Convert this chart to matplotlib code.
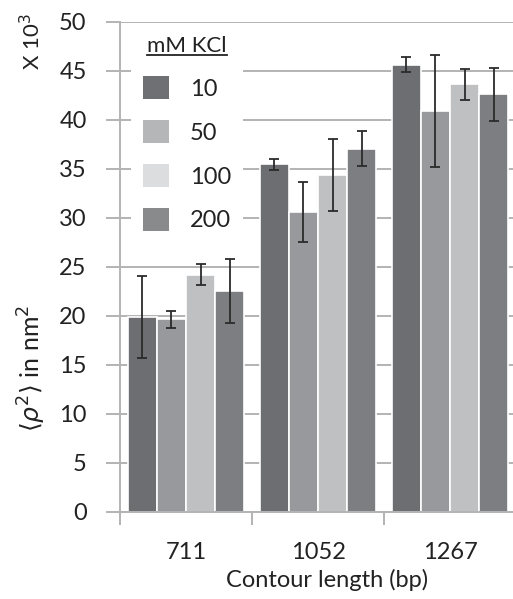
import matplotlib
matplotlib.use("Agg")
import matplotlib.pyplot as plt
from matplotlib.patches import Patch
from matplotlib.lines import Line2D
import numpy as np

plt.rcParams['font.family'] = ['Lato', 'DejaVu Sans']
plt.rcParams['mathtext.fontset'] = 'dejavusans'

categories = ['711', '1052', '1267']
kcl_levels = ['10', '50', '100', '200']
values = {
    '10':  [19.9, 35.45, 45.65],
    '50':  [19.65, 30.55, 40.9],
    '100': [24.2, 34.35, 43.65],
    '200': [22.5, 37.05, 42.6],
}
errors = {
    '10':  [4.2, 0.58, 0.8],
    '50':  [0.88, 3.06, 5.7],
    '100': [1.05, 3.69, 1.58],
    '200': [3.25, 1.77, 2.72],
}
yticks = [0, 5, 10, 15, 20, 25, 30, 35, 40, 45, 50]

bar_colors = ['#6d6e71', '#98999c', '#bfc0c2', '#7d7e81']
swatch_colors = ['#6f7073', '#b5b6b8', '#dcdddf', '#888a8c']
grid_color = '#b3b3b3'

fig = plt.figure(figsize=(5.13, 5.99), dpi=100)
ax = fig.add_axes([120/513, 87.5/599, 396/513, 489.5/599])

x = np.arange(len(categories))
width = 0.22
offsets = (np.arange(4) - 1.5) * width
for i, k in enumerate(kcl_levels):
    ax.bar(x + offsets[i], values[k], width, color=bar_colors[i],
           edgecolor='white', linewidth=1.2, zorder=3)
    ax.errorbar(x + offsets[i], values[k], yerr=errors[k], fmt='none',
                ecolor='#2b2b2b', elinewidth=1.3, capsize=3.8, capthick=1.3, zorder=4)

ax.set_xlim(-0.5, 2.5)
ax.set_ylim(0, 50)
ax.set_yticks(yticks)
ax.set_yticklabels([str(t) for t in yticks])
ax.yaxis.grid(True, color=grid_color, linewidth=1.4, zorder=0)
ax.set_axisbelow(True)

ax.set_xticks(x)
ax.set_xticklabels(categories)
ax.set_xticks([-0.5, 0.5, 1.5, 2.5], minor=True)
ax.tick_params(axis='x', which='major', length=0, pad=22, labelsize=17, colors='#222222')
ax.tick_params(axis='x', which='minor', length=9, width=1.4, color=grid_color)
ax.tick_params(axis='y', length=10, width=1.4, color=grid_color, pad=14,
               labelsize=17, labelcolor='#222222')

for s in ['top', 'right']:
    ax.spines[s].set_visible(False)
for s in ['left', 'bottom']:
    ax.spines[s].set_color(grid_color)
    ax.spines[s].set_linewidth(1.4)
    ax.spines[s].set_zorder(12)

ax.set_xlabel('Contour length (bp)', fontsize=17, color='#222222')
ax.xaxis.set_label_coords((327 - 120) / 396, -(580 - 511.5) / 489.5)
ax.xaxis.label.set_va('center')

fig.text(32/513, 1 - 368/599, r'$\langle \rho^2 \rangle$ in nm$^2$', rotation=90,
         ha='center', va='center', fontsize=18, color='#222222')
fig.text(32/513, 1 - 42/599, r'X 10$^3$', rotation=90,
         ha='center', va='center', fontsize=16, color='#222222')

handles = [Patch(facecolor=c, edgecolor='none') for c in swatch_colors]
leg = ax.legend(handles, kcl_levels, title='mM KCl', loc='upper left',
                bbox_to_anchor=((131 - 120) / 396, (511.5 - 24) / 489.5),
                frameon=True, fancybox=False,
                edgecolor='none', facecolor='white', framealpha=1,
                fontsize=17, title_fontsize=16, handlelength=1.1, handleheight=1.1,
                handletextpad=0.9, labelspacing=0.87, borderpad=0.5, borderaxespad=0)
leg.get_title().set_color('#222222')
for t in leg.get_texts():
    t.set_color('#222222')
leg.set_zorder(10)

fig.canvas.draw()
bb = leg.get_title().get_window_extent()
inv = fig.transFigure.inverted()
(x0, y0), (x1, y1) = inv.transform([(bb.x0, bb.y0), (bb.x1, bb.y0)])
fig.add_artist(Line2D([x0, x1], [y0 + 1/599, y0 + 1/599], color='#222222', lw=1.3, zorder=20))

fig.savefig('out.png', dpi=100)
